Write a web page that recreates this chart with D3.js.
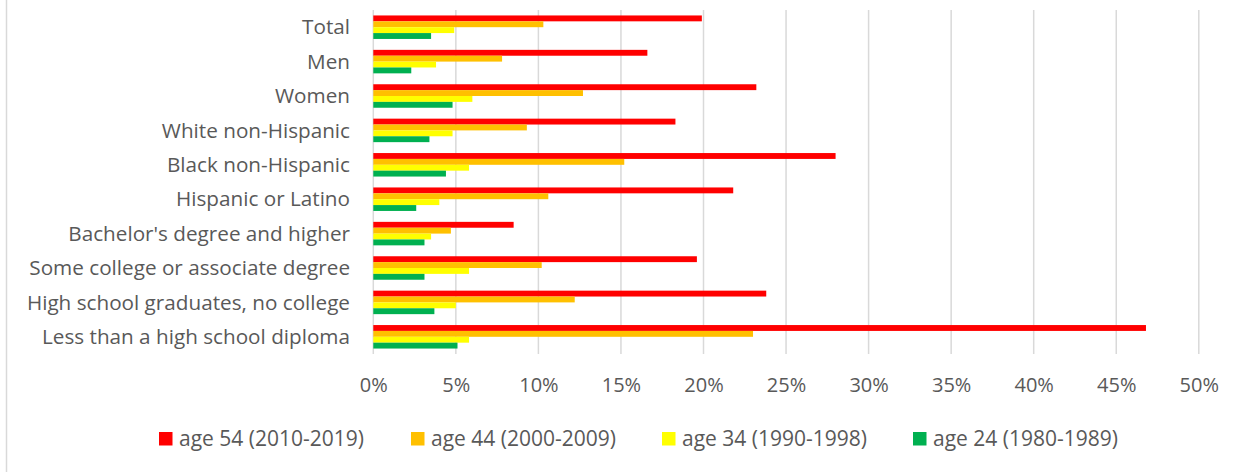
<!DOCTYPE html>
<html>
<head>
<meta charset="utf-8">
<script src="https://cdn.jsdelivr.net/npm/d3@7"></script>
<style>
  html, body { margin: 0; padding: 0; background: #fff; }
  svg { display: block; }
  text { font-family: "Open Sans", sans-serif; fill: #595959; }
</style>
</head>
<body>
<svg id="chart" width="1251" height="472"></svg>
<script>
// Unemployment / share by group, four age cohorts
const categories = [
  "Total",
  "Men",
  "Women",
  "White non-Hispanic",
  "Black non-Hispanic",
  "Hispanic or Latino",
  "Bachelor's degree and higher",
  "Some college or associate degree",
  "High school graduates, no college",
  "Less than a high school diploma"
];

const seriesNames = [
  "age 54 (2010-2019)",
  "age 44 (2000-2009)",
  "age 34 (1990-1998)",
  "age 24 (1980-1989)"
];

const seriesColors = ["#ff0000", "#ffc000", "#ffff00", "#00b050"];

// values in percent, one array per series, in category order
const age54 = [19.9, 16.6, 23.2, 18.3, 28.0, 21.8, 8.5, 19.6, 23.8, 46.8];
const age44 = [10.3, 7.8, 12.7, 9.3, 15.2, 10.6, 4.7, 10.2, 12.2, 23.0];
const age34 = [4.9, 3.8, 6.0, 4.8, 5.8, 4.0, 3.5, 5.8, 5.0, 5.8];
const age24 = [3.5, 2.3, 4.8, 3.4, 4.4, 2.6, 3.1, 3.1, 3.7, 5.1];

const seriesValues = [age54, age44, age34, age24];

const xTicks = [0, 5, 10, 15, 20, 25, 30, 35, 40, 45, 50];

const svg = d3.select("#chart");

// outer frame edge on the left
svg.append("line")
  .attr("x1", 6.5).attr("x2", 6.5)
  .attr("y1", 0).attr("y2", 472)
  .attr("stroke", "#d9d9d9").attr("stroke-width", 1.5);

const plot = { left: 373.3, right: 1198.8, top: 10, bottom: 354 };

const x = d3.scaleLinear().domain([0, 50]).range([plot.left, plot.right]);

const y = d3.scaleBand()
  .domain(categories)
  .range([plot.top, plot.bottom])
  .paddingInner(0.317)
  .paddingOuter(0.1585);

const ySub = d3.scaleBand()
  .domain(d3.range(seriesNames.length))
  .range([0, y.bandwidth()]);

// vertical gridlines
svg.append("g")
  .selectAll("line")
  .data(xTicks)
  .join("line")
  .attr("x1", d => x(d)).attr("x2", d => x(d))
  .attr("y1", plot.top).attr("y2", plot.bottom)
  .attr("stroke", "#d9d9d9")
  .attr("stroke-width", 1.5);

// bars
const groups = svg.append("g")
  .selectAll("g")
  .data(categories)
  .join("g")
  .attr("transform", d => `translate(0,${y(d)})`);

groups.selectAll("rect")
  .data((c, ci) => seriesValues.map((vals, si) => ({ si, v: vals[ci] })))
  .join("rect")
  .attr("x", x(0))
  .attr("y", d => ySub(d.si))
  .attr("width", d => x(d.v) - x(0))
  .attr("height", ySub.bandwidth())
  .attr("fill", d => seriesColors[d.si]);

// x axis tick labels
const xAxis = d3.axisBottom(x)
  .tickValues(xTicks)
  .tickFormat(d => d + "%")
  .tickSize(0)
  .tickPadding(0);

const xg = svg.append("g")
  .attr("transform", `translate(0,${plot.bottom})`)
  .call(xAxis);
xg.select(".domain").remove();
xg.selectAll("text")
  .attr("y", 31)
  .attr("dy", "0.35em")
  .style("font-size", "20px")
  .style("fill", "#595959")
  .style("font-family", "'Open Sans', sans-serif");

// category labels
const yAxis = d3.axisLeft(y).tickSize(0).tickPadding(0);
const yg = svg.append("g")
  .attr("transform", `translate(350,0)`)
  .call(yAxis);
yg.select(".domain").remove();
yg.selectAll("text")
  .attr("dy", "0.35em")
  .style("font-size", "20.7px")
  .style("fill", "#595959")
  .style("font-family", "'Open Sans', sans-serif");

// legend
const legendX = [159, 411, 662, 913];
const legend = svg.append("g")
  .selectAll("g")
  .data(seriesNames)
  .join("g")
  .attr("transform", (d, i) => `translate(${legendX[i]},432)`);

legend.append("rect")
  .attr("width", 13.5).attr("height", 13.5)
  .attr("fill", (d, i) => seriesColors[i]);

legend.append("text")
  .attr("x", 20)
  .attr("y", 7)
  .attr("dy", "0.35em")
  .style("font-size", "21px")
  .text(d => d);
</script>
</body>
</html>
